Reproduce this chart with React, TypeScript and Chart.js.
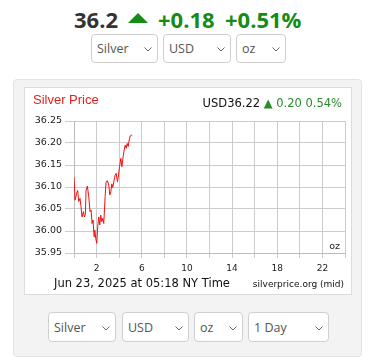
import { useEffect, useRef } from 'react';
import { Chart, registerables } from 'chart.js';

Chart.register(...registerables);

// ---- data (hours since midnight NY time, USD/oz) ----
const hours = [
  0.0, 0.089, 0.237, 0.326, 0.415, 0.533, 0.622, 0.711, 0.83, 0.919, 1.007, 1.067, 1.185, 1.304,
  1.422, 1.511, 1.6, 1.689, 1.778, 1.837, 1.926, 2.015, 2.104, 2.193, 2.281, 2.37, 2.459, 2.548,
  2.637, 2.756, 2.844, 2.963, 3.081, 3.17, 3.259, 3.348, 3.437, 3.556, 3.644, 3.733, 3.852, 3.941,
  4.03, 4.148, 4.237, 4.356, 4.444, 4.533, 4.622, 4.711, 4.8, 4.889, 4.978, 5.067, 5.156,
];
const prices = [
  36.123, 36.07, 36.086, 36.092, 36.067, 36.074, 36.055, 36.032, 36.044, 36.032, 36.038, 36.093,
  36.102, 36.078, 36.044, 36.048, 36.017, 36.025, 35.987, 36.002, 35.983, 35.972, 36.01, 36.032,
  36.014, 36.036, 36.021, 36.029, 36.017, 36.078, 36.112, 36.114, 36.104, 36.082, 36.089, 36.107,
  36.099, 36.116, 36.127, 36.131, 36.112, 36.127, 36.146, 36.165, 36.146, 36.169, 36.184, 36.195,
  36.188, 36.199, 36.192, 36.207, 36.216, 36.218, 36.217,
];
const xLabelHours = [2, 6, 10, 14, 18, 22];
const xMin = 0;
const xMax = 24;
const xStep = 2;
const yMin = 35.95;
const yMax = 36.25;
const yStep = 0.05;

const headerPrice = '36.2';
const headerChange = '+0.18';
const headerPct = '+0.51%';
const chartTitle = 'Silver Price';
const quotePrice = 'USD36.22';
const quoteChange = '0.20';
const quotePct = '0.54%';
const footerLeft = 'Jun 23, 2025 at 05:18 NY Time';
const footerRight = 'silverprice.org (mid)';
const unitLabel = 'oz';

const topSelects = [
  { label: 'Silver', left: 91, width: 67 },
  { label: 'USD', left: 163, width: 68 },
  { label: 'oz', left: 236, width: 50 },
];
const bottomSelects = [
  { label: 'Silver', left: 48, width: 68 },
  { label: 'USD', left: 122, width: 67 },
  { label: 'oz', left: 194, width: 49 },
  { label: '1 Day', left: 248, width: 81 },
];

const GREEN = '#168c16';
const QGREEN = '#2b8a2b';
const RED = '#e3211e';
const DV = '"DejaVu Sans", Verdana, sans-serif';

function Select({ label, left, width, top, height }: any) {
  return (
    <div
      style={{
        position: 'absolute',
        left,
        top,
        width,
        height,
        boxSizing: 'border-box',
        border: '1px solid #cfcfcf',
        borderRadius: 4,
        background: '#fff',
        display: 'flex',
        alignItems: 'center',
        paddingLeft: 5,
        fontFamily: '"Open Sans", sans-serif',
        fontSize: 12.5,
        color: '#555',
      }}
    >
      {label}
      <svg
        width="8"
        height="5"
        style={{ position: 'absolute', right: 5, top: height / 2 - 2.5 }}
      >
        <polyline points="0.5,0.5 4,4 7.5,0.5" fill="none" stroke="#666" strokeWidth="1" />
      </svg>
    </div>
  );
}

const textPlugin = {
  id: 'boxTexts',
  afterDraw(chart: any) {
    const ctx = chart.ctx as CanvasRenderingContext2D;
    const area = chart.chartArea;
    ctx.save();
    ctx.textBaseline = 'alphabetic';
    // title
    ctx.textAlign = 'left';
    ctx.font = '13px "Liberation Sans", Arial, sans-serif';
    ctx.fillStyle = RED;
    ctx.fillText(chartTitle, 8, 16);
    // quote line
    ctx.font = '11.5px ' + DV;
    const p1 = quotePrice;
    const p2 = ' \u25B2 ' + quoteChange + ' ' + quotePct;
    const w1 = ctx.measureText(p1).width;
    const w2 = ctx.measureText(p2).width;
    let x = 317 - w1 - w2;
    ctx.fillStyle = '#111';
    ctx.fillText(p1, x, 18.5);
    x += w1;
    ctx.fillStyle = QGREEN;
    ctx.fillText(p2, x, 18.5);
    // unit
    ctx.font = '9.5px ' + DV;
    ctx.fillStyle = '#222';
    ctx.textAlign = 'right';
    ctx.fillText(unitLabel, area.right - 5, area.bottom - 4);
    // footer
    ctx.font = '11.5px ' + DV;
    ctx.fillStyle = '#111';
    ctx.textAlign = 'left';
    ctx.fillText(footerLeft, 29, 199);
    ctx.font = '9px ' + DV;
    ctx.textAlign = 'right';
    ctx.fillText(footerRight, 319, 198.5);
    ctx.restore();
  },
};

export default function App() {
  const ref = useRef<HTMLCanvasElement>(null);

  useEffect(() => {
    if (!ref.current) return;
    const chart = new Chart(ref.current, {
      type: 'line',
      data: {
        datasets: [
          {
            data: hours.map((h, i) => ({ x: h, y: prices[i] })),
            borderColor: '#ee1111',
            borderWidth: 1,
            pointRadius: 0,
            tension: 0,
            fill: false,
          },
        ],
      },
      options: {
        animation: false,
        responsive: false,
        devicePixelRatio: 1,
        layout: { padding: { left: 0, right: 6, top: 33, bottom: 0 } },
        plugins: {
          legend: { display: false },
          tooltip: { enabled: false },
          title: { display: false },
        },
        scales: {
          x: {
            type: 'linear',
            min: xMin,
            max: xMax,
            ticks: {
              stepSize: xStep,
              autoSkip: false,
              maxRotation: 0,
              padding: 5,
              color: '#222',
              font: { family: DV, size: 9 },
              callback: (v: any) => (xLabelHours.includes(Number(v)) ? String(v) : ''),
            },
            grid: { color: '#cccccc', tickLength: 5, lineWidth: 1 },
            border: { color: '#bbbbbb' },
            afterFit: (s: any) => {
              s.height = 41;
            },
          },
          y: {
            min: yMin,
            max: yMax,
            ticks: {
              stepSize: yStep,
              padding: 3,
              color: '#222',
              font: { family: DV, size: 9.5 },
              callback: (v: any) => Number(v).toFixed(2),
            },
            grid: { color: '#cccccc', tickLength: 9, lineWidth: 1 },
            border: { color: '#bbbbbb' },
            afterFit: (s: any) => {
              s.width = 49;
            },
          },
        },
      },
      plugins: [textPlugin],
    });
    return () => chart.destroy();
  }, []);

  const headStyle: any = {
    position: 'absolute',
    top: 7.5,
    fontFamily: '"Open Sans", sans-serif',
    fontWeight: 700,
    fontSize: 22,
    lineHeight: '22px',
    whiteSpace: 'nowrap',
  };

  return (
    <div
      style={{
        position: 'absolute',
        left: 0,
        top: 0,
        width: 377,
        height: 363,
        overflow: 'hidden',
        background: '#fff',
      }}
    >
      <span style={{ ...headStyle, left: 74, color: '#333' }}>{headerPrice}</span>
      <svg
        width="20"
        height="10"
        style={{ position: 'absolute', left: 128, top: 13 }}
      >
        <polygon points="10,0 20,10 0,10" fill={GREEN} />
      </svg>
      <span style={{ ...headStyle, left: 158, color: GREEN }}>{headerChange}</span>
      <span style={{ ...headStyle, left: 225, color: GREEN }}>{headerPct}</span>

      {topSelects.map((s) => (
        <Select key={'t' + s.label} {...s} top={34} height={29} />
      ))}

      <div
        style={{
          position: 'absolute',
          left: 13,
          top: 79,
          width: 349,
          height: 278,
          boxSizing: 'border-box',
          background: '#f3f3f3',
          border: '1px solid #e3e3e3',
          borderRadius: 4,
        }}
      />
      <div
        style={{
          position: 'absolute',
          left: 24,
          top: 87,
          width: 328,
          height: 208,
          boxSizing: 'border-box',
          background: '#fff',
          border: '1px solid #dcdcdc',
        }}
      >
        <canvas ref={ref} width={326} height={206} style={{ display: 'block', width: 326, height: 206 }} />
      </div>

      {bottomSelects.map((s) => (
        <Select key={'b' + s.label} {...s} top={312} height={30} />
      ))}
    </div>
  );
}
